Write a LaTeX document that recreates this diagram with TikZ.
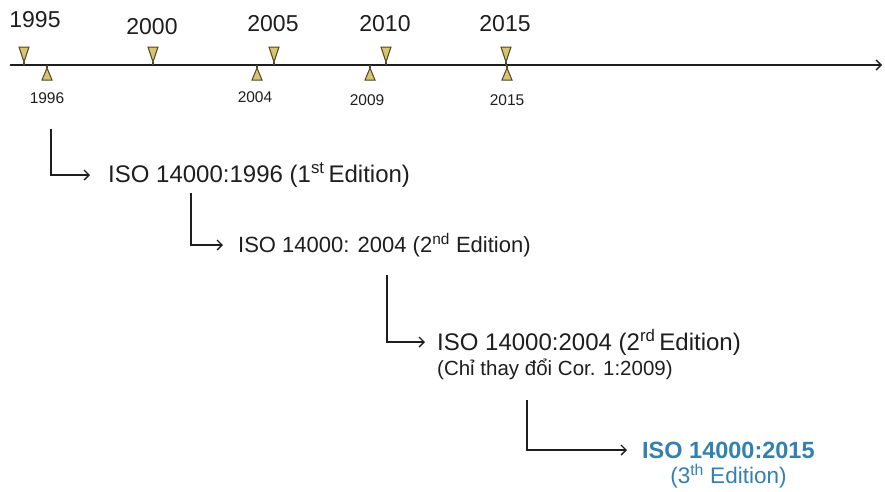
\documentclass[tikz,border=0pt]{standalone}
\usepackage{fontspec}
\setmainfont{Liberation Sans}
\usetikzlibrary{arrows.meta}
\definecolor{markfill}{RGB}{214,196,112}
\definecolor{markline}{RGB}{80,70,35}
\definecolor{isoblue}{RGB}{52,128,175}
\definecolor{txt}{RGB}{30,30,30}
\tikzset{
  axis/.style={line width=1.4pt, draw=txt, -{Straight Barb[length=5pt,width=10pt,line width=1.4pt]}},
  conn/.style={line width=1.4pt, draw=txt, -{Straight Barb[length=5pt,width=10pt,line width=1.4pt]}},
  bigyear/.style={font=\fontsize{23}{25}\selectfont, text=txt, inner sep=0pt},
  smallyear/.style={font=\fontsize{15.5}{17}\selectfont, text=txt, inner sep=0pt},
  label/.style={text=txt, inner sep=0pt, anchor=west},
  bluelabel/.style={text=isoblue, inner sep=0pt},
  markstyle/.style={fill=markfill, draw=markline, line width=1pt, line join=miter},
  downmark/.pic={\draw[markstyle] (-5,-18) -- (5,-18) -- (0,-3) -- cycle;
                 \draw[markline, line width=1.4pt] (0,-3) -- (0,0);},
  upmark/.pic={\draw[markstyle] (0,3) -- (5,15) -- (-5,15) -- cycle;
               \draw[markline, line width=1.4pt] (0,0) -- (0,3);}
}
\begin{document}
\begin{tikzpicture}[x=1pt,y=-1pt]
\useasboundingbox[fill=white] (0,0) rectangle (885,491);

% timeline
\coordinate (tl0) at (10,65);
\coordinate (tl1) at (882,65);
\draw[axis] (tl0) -- (tl1);

% top markers
\pic (m1995) at (24,65) {downmark};
\pic (m2000) at (153,65) {downmark};
\pic (m2005) at (274,65) {downmark};
\pic (m2010) at (386,65) {downmark};
\pic (m2015t) at (506,65) {downmark};
% bottom markers
\pic (m1996) at (47,65) {upmark};
\pic (m2004) at (257,65) {upmark};
\pic (m2009) at (370,65) {upmark};
\pic (m2015b) at (507,65) {upmark};

% top year labels
\node[bigyear] (y1995) at (35,20) {1995};
\node[bigyear] (y2000) at (152,27) {2000};
\node[bigyear] (y2005) at (273,24) {2005};
\node[bigyear] (y2010) at (385,24) {2010};
\node[bigyear] (y2015) at (505,24) {2015};

% bottom year labels
\node[smallyear] (b1996) at (47,98) {1996};
\node[smallyear] (b2004) at (255,97) {2004};
\node[smallyear] (b2009) at (367,100) {2009};
\node[smallyear] (b2015) at (507,100) {2015};

% edition texts
\node[label, font=\fontsize{24}{26}\selectfont] (t1) at (108,175) {ISO 14000:1996 (1\textsuperscript{st}\,Edition)};
\node[label, font=\fontsize{22}{24}\selectfont] (t2) at (238,245) {ISO 14000: 2004 (2\textsuperscript{nd} Edition)};
\node[label, font=\fontsize{24}{26}\selectfont] (t3a) at (437,342) {ISO 14000:2004 (2\textsuperscript{rd}\,Edition)};
\node[label, font=\fontsize{20.5}{22}\selectfont] (t3b) at (437,369) {(Chỉ thay đổi Cor. 1:2009)};
\node[bluelabel, anchor=west, font=\fontsize{23.5}{26}\selectfont\bfseries] (t4a) at (642,450) {ISO 14000:2015};
\node[bluelabel, font=\fontsize{22.5}{26}\selectfont] (t4b) at (t4a.center |- 0,476) {(3\textsuperscript{th} Edition)};

% connectors
\coordinate (s1) at (51,129);
\coordinate (s2) at (191,193);
\coordinate (s3) at (387,275);
\coordinate (s4) at (527,400);
\draw[conn] (s1) |- ([xshift=-18pt]t1.west);
\draw[conn] (s2) |- ([xshift=-15pt]t2.west);
\draw[conn] (s3) |- ([xshift=-12pt]t3a.west);
\draw[conn] (s4) |- ([xshift=-15pt]t4a.west);
\end{tikzpicture}
\end{document}
